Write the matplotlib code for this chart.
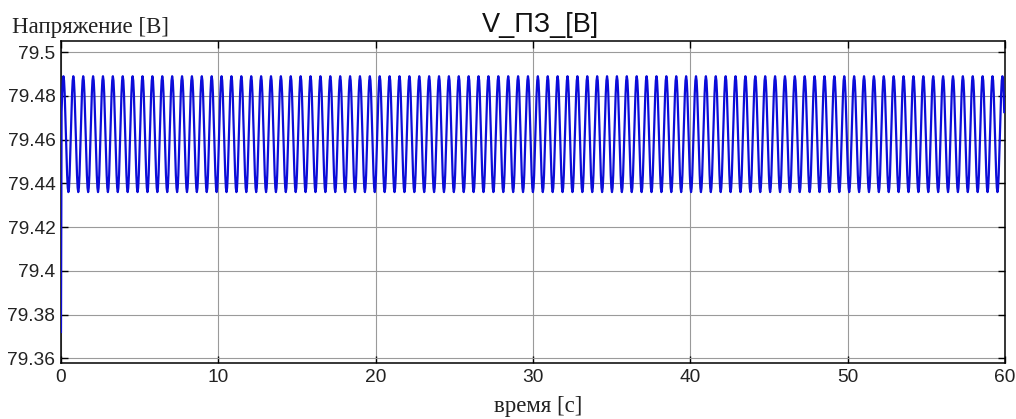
#!/usr/bin/env python3
"""Voltage V_ПЗ over 60 s: small start transient, then a steady oscillation."""

import numpy as np
import matplotlib
matplotlib.use('Agg')
import matplotlib.pyplot as plt
from matplotlib.ticker import FormatStrFormatter

# --- data --------------------------------------------------------------
t_end = 60.0                 # s
period = 0.6283              # s, one oscillation (about 9.9 px per cycle)
v_start = 79.372             # V, value at t = 0 before the signal settles
# one period of the steady oscillation, 16 samples (V)
cycle_values = [79.4625, 79.4726, 79.4812, 79.4870, 79.4890, 79.4870,
                79.4812, 79.4726, 79.4625, 79.4524, 79.4438, 79.4380,
                79.4360, 79.4380, 79.4438, 79.4524]

x_ticks = [0, 10, 20, 30, 40, 50, 60]
y_ticks = [79.36, 79.38, 79.40, 79.42, 79.44, 79.46, 79.48, 79.50]

title = 'V_ПЗ_[В]'
y_label = 'Напряжение [В]'
x_label = 'время [с]'

# build the series from the read cycle
n_per = len(cycle_values)
n_cycles = int(np.ceil(t_end / period)) + 1
volt = np.tile(cycle_values, n_cycles)
time = np.arange(len(volt)) * period / n_per
keep = time <= t_end
time, volt = time[keep], volt[keep].copy()
volt[0] = v_start

# --- figure --------------------------------------------------------------
fig = plt.figure(figsize=(10.16, 4.19), dpi=100)
ax = fig.add_axes([0.060, 0.133, 0.929, 0.768])

ax.plot(time, volt, color='#0c0cd8', linewidth=1.6, zorder=3)

ax.set_xlim(0, 60)
ax.set_ylim(79.3577, 79.5049)
ax.set_xticks(x_ticks)
ax.set_yticks(y_ticks)
ax.yaxis.set_major_formatter(FormatStrFormatter('%g'))

ax.grid(True, color='#9a9a9a', linewidth=0.8, linestyle='-')
ax.tick_params(direction='in', length=5, width=1.0, top=True, right=True,
               labelsize=13.8, colors='black', pad=4)
for lbl in ax.get_xticklabels() + ax.get_yticklabels():
    lbl.set_family('Liberation Sans')
    lbl.set_color('#222222')
for sp in ax.spines.values():
    sp.set_linewidth(1.1)
    sp.set_color('black')

fig.text(0.532, 1 - 25 / 419, title, ha='center', va='center',
         fontsize=19.5, family='Liberation Sans', color='#111111')
fig.text(0.012, 1 - 27 / 419, y_label, ha='left', va='center',
         fontsize=16.5, family='Liberation Serif', color='#222222')
fig.text(0.53, 1 - 406 / 419, x_label, ha='center', va='center',
         fontsize=16.5, family='Liberation Serif', color='#222222')

fig.savefig('out.png', dpi=100, facecolor='white')
plt.close(fig)
